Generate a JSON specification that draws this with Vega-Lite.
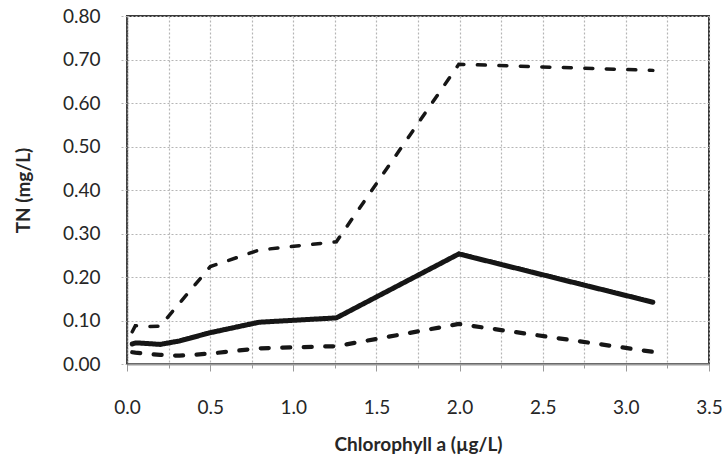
{
  "$schema": "https://vega.github.io/schema/vega-lite/v6.json",
  "width": 582,
  "height": 348,
  "autosize": {"type": "none"},
  "padding": {"left": 127, "top": 16, "right": 15, "bottom": 102},
  "background": "white",
  "config": {
    "view": {"stroke": "#3a3a3a", "strokeWidth": 2},
    "font": "Lato"
  },
  "data": {
    "values": [
      {"chla": 0.0316, "tn": 0.046, "series": "mean"},
      {"chla": 0.0501, "tn": 0.048, "series": "mean"},
      {"chla": 0.0794, "tn": 0.048, "series": "mean"},
      {"chla": 0.1259, "tn": 0.047, "series": "mean"},
      {"chla": 0.1995, "tn": 0.045, "series": "mean"},
      {"chla": 0.3162, "tn": 0.053, "series": "mean"},
      {"chla": 0.5012, "tn": 0.072, "series": "mean"},
      {"chla": 0.7943, "tn": 0.096, "series": "mean"},
      {"chla": 1.2589, "tn": 0.106, "series": "mean"},
      {"chla": 1.9953, "tn": 0.253, "series": "mean"},
      {"chla": 3.1623, "tn": 0.142, "series": "mean"},
      {"chla": 0.0316, "tn": 0.027, "series": "lower"},
      {"chla": 0.0501, "tn": 0.026, "series": "lower"},
      {"chla": 0.0794, "tn": 0.025, "series": "lower"},
      {"chla": 0.1259, "tn": 0.023, "series": "lower"},
      {"chla": 0.1995, "tn": 0.021, "series": "lower"},
      {"chla": 0.3162, "tn": 0.019, "series": "lower"},
      {"chla": 0.5012, "tn": 0.024, "series": "lower"},
      {"chla": 0.7943, "tn": 0.036, "series": "lower"},
      {"chla": 1.2589, "tn": 0.041, "series": "lower"},
      {"chla": 1.9953, "tn": 0.092, "series": "lower"},
      {"chla": 3.1623, "tn": 0.028, "series": "lower"},
      {"chla": 0.0316, "tn": 0.074, "series": "upper"},
      {"chla": 0.0501, "tn": 0.088, "series": "upper"},
      {"chla": 0.0794, "tn": 0.088, "series": "upper"},
      {"chla": 0.1259, "tn": 0.086, "series": "upper"},
      {"chla": 0.1995, "tn": 0.087, "series": "upper"},
      {"chla": 0.3162, "tn": 0.14, "series": "upper"},
      {"chla": 0.5012, "tn": 0.224, "series": "upper"},
      {"chla": 0.7943, "tn": 0.262, "series": "upper"},
      {"chla": 1.2589, "tn": 0.281, "series": "upper"},
      {"chla": 1.9953, "tn": 0.689, "series": "upper"},
      {"chla": 3.1623, "tn": 0.675, "series": "upper"}
    ]
  },
  "mark": {"type": "line", "color": "#161616", "strokeCap": "round", "strokeJoin": "miter", "clip": true},
  "encoding": {
    "x": {
      "field": "chla",
      "type": "quantitative",
      "scale": {"domain": [0, 3.5], "nice": false, "zero": false},
      "axis": {
        "title": "Chlorophyll a (µg/L)",
        "titleFont": "Lato",
        "titleFontSize": 19,
        "titleFontWeight": "bold",
        "titleColor": "#262626",
        "titlePadding": 18,
        "values": [0, 0.25, 0.5, 0.75, 1, 1.25, 1.5, 1.75, 2, 2.25, 2.5, 2.75, 3, 3.25, 3.5],
        "labelExpr": "datum.value % 0.5 === 0 ? format(datum.value, '.1f') : ''",
        "labelFont": "Lato",
        "labelFontSize": 19,
        "labelColor": "#262626",
        "labelPadding": 27,
        "labelOverlap": false,
        "labelFlush": false,
        "domainColor": "#9a9a9a",
        "domainWidth": 2,
        "tickColor": "#9a9a9a",
        "tickWidth": 1,
        "tickSize": {"condition": {"test": "datum.value % 0.5 === 0", "value": 7}, "value": 4},
        "grid": true,
        "gridColor": "#b5b5b5",
        "gridDash": [2, 2],
        "gridWidth": 1.2
      }
    },
    "y": {
      "field": "tn",
      "type": "quantitative",
      "scale": {"domain": [0, 0.8], "nice": false},
      "axis": {
        "title": "TN (mg/L)",
        "titleFont": "Lato",
        "titleFontSize": 19,
        "titleFontWeight": "bold",
        "titleColor": "#262626",
        "titlePadding": 29,
        "values": [0, 0.1, 0.2, 0.3, 0.4, 0.5, 0.6, 0.7, 0.8],
        "format": ".2f",
        "labelFont": "Lato",
        "labelFontSize": 19,
        "labelColor": "#262626",
        "labelPadding": 20,
        "domainColor": "#555555",
        "domainWidth": 1.5,
        "domainDash": [2, 1],
        "tickColor": "#b5b5b5",
        "tickDash": [2, 2],
        "tickSize": 7,
        "grid": true,
        "gridColor": "#b5b5b5",
        "gridDash": [2, 2],
        "gridWidth": 1.2
      }
    },
    "detail": {"field": "series"},
    "strokeDash": {
      "field": "series",
      "type": "nominal",
      "scale": {"domain": ["mean", "lower", "upper"], "range": [[1, 0], [8, 13.5], [8, 13.5]]},
      "legend": null
    },
    "strokeWidth": {
      "field": "series",
      "type": "nominal",
      "scale": {"domain": ["mean", "lower", "upper"], "range": [5, 3.5, 3.5]},
      "legend": null
    }
  }
}
